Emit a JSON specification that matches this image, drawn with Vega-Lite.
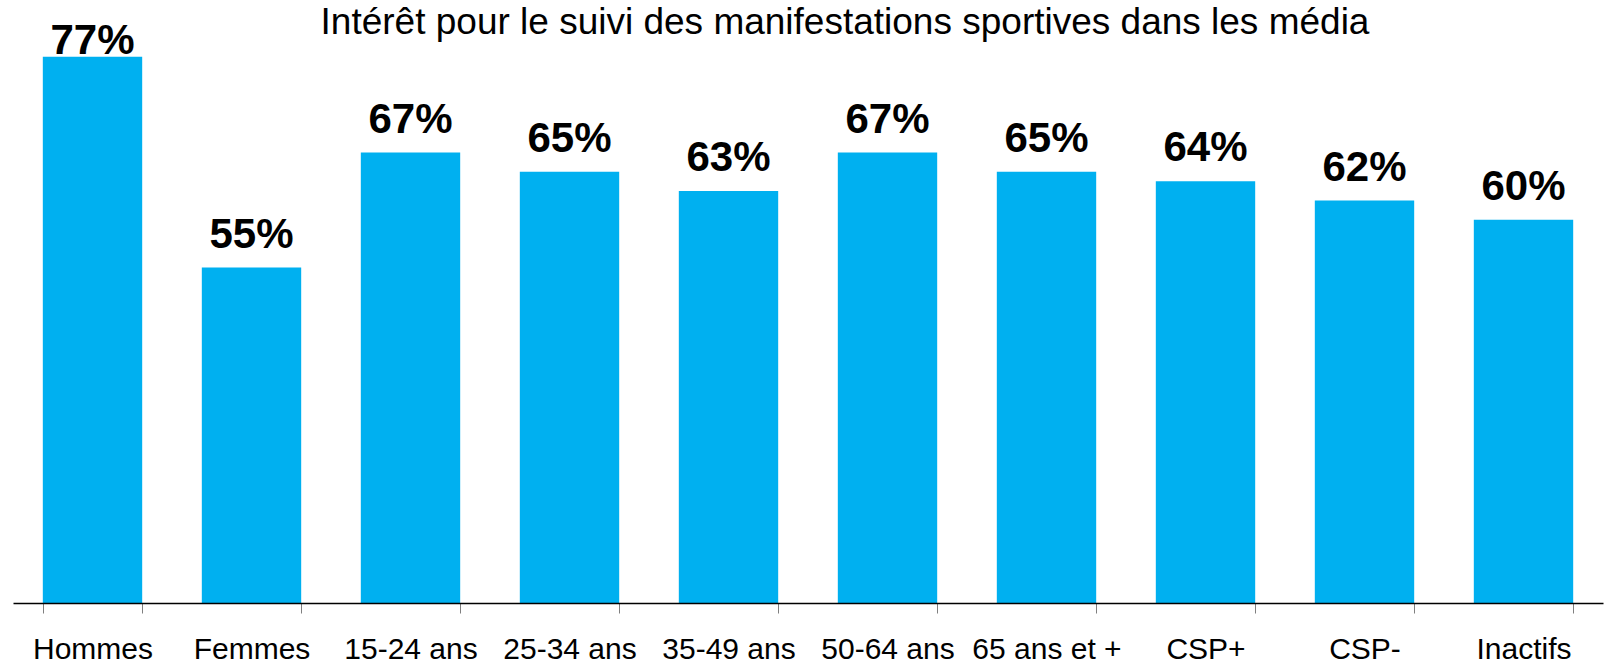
{
  "$schema": "https://vega.github.io/schema/vega-lite/v6.json",
  "autosize": "none",
  "width": 1590,
  "height": 575,
  "padding": {"left": 13, "top": 28, "right": 5, "bottom": 60},
  "background": "white",
  "title": {
    "text": "Intérêt pour le suivi des manifestations sportives dans les média",
    "font": "Liberation Sans",
    "fontSize": 37,
    "fontWeight": "normal",
    "color": "#000000",
    "anchor": "middle",
    "frame": "group",
    "baseline": "alphabetic",
    "offset": -51,
    "dx": 37
  },
  "data": {
    "values": [
      {"cat": "Hommes", "v": 77, "lab": "77%"},
      {"cat": "Femmes", "v": 55, "lab": "55%"},
      {"cat": "15-24 ans", "v": 67, "lab": "67%"},
      {"cat": "25-34 ans", "v": 65, "lab": "65%"},
      {"cat": "35-49 ans", "v": 63, "lab": "63%"},
      {"cat": "50-64 ans", "v": 67, "lab": "67%"},
      {"cat": "65 ans et +", "v": 65, "lab": "65%"},
      {"cat": "CSP+", "v": 64, "lab": "64%"},
      {"cat": "CSP-", "v": 62, "lab": "62%"},
      {"cat": "Inactifs", "v": 60, "lab": "60%"}
    ]
  },
  "encoding": {
    "x": {
      "field": "cat",
      "type": "nominal",
      "sort": null,
      "scale": {"paddingInner": 0.375, "paddingOuter": 0.1875},
      "axis": {
        "title": null,
        "labelAngle": 0,
        "labelFont": "Liberation Sans",
        "labelFontSize": 30,
        "labelColor": "#000000",
        "labelPadding": 21,
        "labelLimit": 0,
        "tickBand": "extent",
        "tickSize": 10,
        "tickColor": "#7f7f7f",
        "domainColor": "#000000",
        "domainWidth": 1.5,
        "grid": false,
        "zindex": 1
      }
    },
    "y": {
      "field": "v",
      "type": "quantitative",
      "scale": {"domain": [20, 80], "zero": false, "nice": false},
      "axis": null
    }
  },
  "layer": [
    {
      "mark": {"type": "bar", "color": "#00B0F0"},
      "encoding": {"y2": {"datum": 20}}
    },
    {
      "transform": [{"filter": "datum.v < 75"}],
      "mark": {
        "type": "text",
        "font": "Liberation Sans",
        "fontSize": 42,
        "fontWeight": "bold",
        "baseline": "alphabetic",
        "dy": -20,
        "color": "#000000"
      },
      "encoding": {"text": {"field": "lab", "type": "nominal"}}
    },
    {
      "transform": [{"filter": "datum.v >= 75"}],
      "mark": {
        "type": "text",
        "font": "Liberation Sans",
        "fontSize": 42,
        "fontWeight": "bold",
        "baseline": "alphabetic",
        "dy": -3,
        "color": "#000000"
      },
      "encoding": {"text": {"field": "lab", "type": "nominal"}}
    }
  ],
  "config": {"view": {"stroke": null}}
}
